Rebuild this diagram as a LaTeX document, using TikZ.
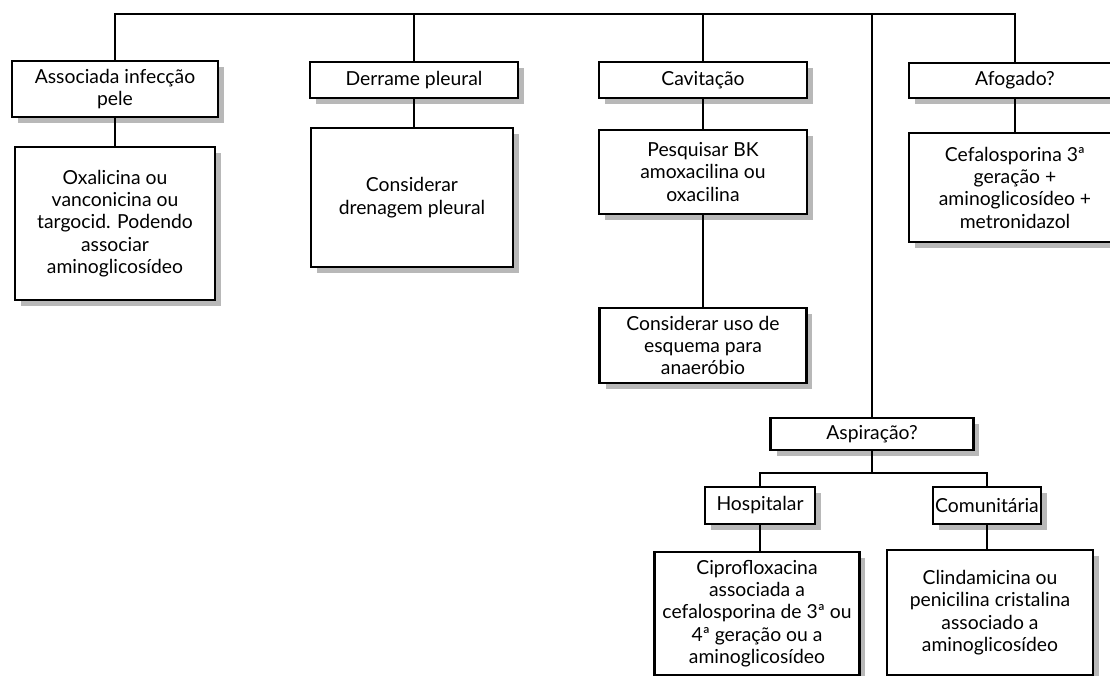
\documentclass[tikz,border=0pt]{standalone}
\usepackage{fontspec}
\setmainfont{Lato}
\usetikzlibrary{shadows}

\begin{document}
\begin{tikzpicture}[x=0.02cm,y=-0.02cm,
	box/.style={draw, line width=1.3pt, fill=white, align=center, inner sep=1pt,
		font=\fontsize{11}{12.7}\selectfont,
		drop shadow={shadow xshift=0.12cm, shadow yshift=-0.12cm, fill=black!28, opacity=1}},
	link/.style={line width=1.3pt}]

		\path[use as bounding box, clip] (0,0) rectangle (1110,676);
		\coordinate (bar) at (0,14);
		\coordinate (split) at (0,473);

		\node[box, minimum width=4.12cm, minimum height=1.12cm] (assoc) at (115,89) {Associada infecção\\pele};
		\node[box, minimum width=4.0cm, minimum height=3.06cm] (oxa) at (115,223.5) {Oxalicina ou\\vanconicina ou\\targocid. Podendo\\associar\\aminoglicosídeo};
		\node[box, minimum width=4.16cm, minimum height=0.72cm] (derr) at (414,80) {Derrame pleural};
		\node[box, minimum width=4.04cm, minimum height=2.78cm] (dren) at (412,197.5) {Considerar\\drenagem pleural};
		\node[box, minimum width=4.16cm, minimum height=0.72cm] (cavit) at (703,80) {Cavitação};
		\node[box, minimum width=4.16cm, minimum height=1.68cm] (pesq) at (703,172) {Pesquisar BK\\amoxacilina ou\\oxacilina};
		\node[box, minimum width=4.14cm, minimum height=1.5cm] (anaer) at (703,345.5) {Considerar uso de\\esquema para\\anaeróbio};
		\node[box, minimum width=4.24cm, minimum height=0.7cm] (afog) at (1015,80.5) {Afogado?};
		\node[box, minimum width=4.24cm, minimum height=2.18cm] (cefa) at (1015,187.5) {Cefalosporina 3ª\\geração +\\aminoglicosídeo +\\metronidazol};
		\node[box, minimum width=4.06cm, minimum height=0.64cm] (aspir) at (872,434) {Aspiração?};
		\node[box, minimum width=2.2cm, minimum height=0.74cm] (hosp) at (760,505.5) {Hospitalar};
		\node[box, minimum width=2.16cm, minimum height=0.74cm] (comun) at (987,505.5) {Comunitária};
		\node[box, minimum width=4.1cm, minimum height=2.46cm] (cipro) at (757,613.5) {Ciprofloxacina\\associada a\\cefalosporina de 3ª ou\\4ª geração ou a\\aminoglicosídeo};
		\node[box, minimum width=4.12cm, minimum height=2.5cm] (clind) at (990,612.5) {Clindamicina ou\\penicilina cristalina\\associado a\\aminoglicosídeo};

		\draw[link] (assoc.north) -- (assoc.north |- bar) -- (afog.north |- bar) -- (afog.north);
		\draw[link] (derr.north) -- (derr.north |- bar);
		\draw[link] (cavit.north) -- (cavit.north |- bar);
		\draw[link] (aspir.north) -- (aspir.north |- bar);
		\draw[link] (assoc.south) -- (assoc.south |- oxa.north);
		\draw[link] (derr.south) -- (derr.south |- dren.north);
		\draw[link] (cavit.south) -- (cavit.south |- pesq.north);
		\draw[link] (pesq.south) -- (pesq.south |- anaer.north);
		\draw[link] (afog.south) -- (afog.south |- cefa.north);
		\draw[link] (aspir.south) -- (aspir.south |- split);
		\draw[link] (hosp.north) -- (hosp.north |- split) -- (comun.north |- split) -- (comun.north);
		\draw[link] (hosp.south) -- (hosp.south |- cipro.north);
		\draw[link] (comun.south) -- (comun.south |- clind.north);
	\end{tikzpicture}
\end{document}
